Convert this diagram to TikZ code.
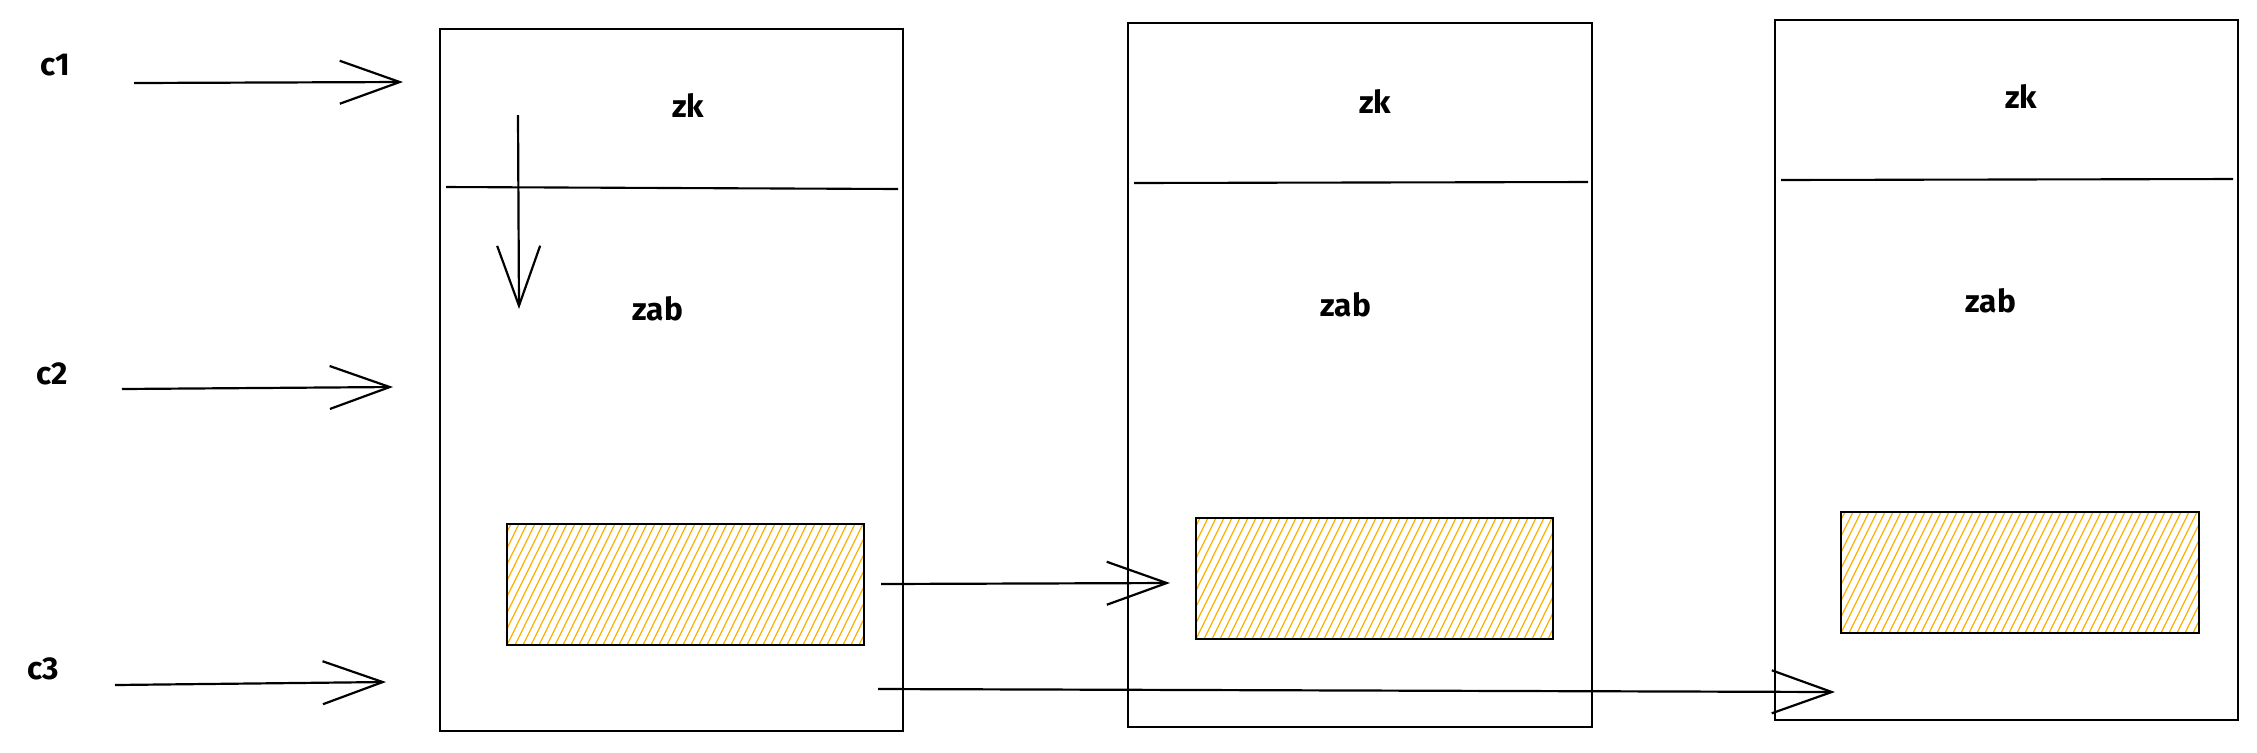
\documentclass[tikz,border=0pt]{standalone}
\usepackage{fontspec}
\setmainfont{Fira Sans}
\usetikzlibrary{arrows.meta}
\definecolor{hatchc}{HTML}{FAB005}
\tikzset{
  box/.style={draw, line width=0.9pt, inner sep=0pt, fill=none},
  divider/.style={line width=1.2pt},
  arr/.style={line width=1.25pt, -{Straight Barb[length=1.2cm,width=0.86cm,line width=1.25pt]}},
  hatchbox/.style={draw, line width=1.5pt, inner sep=0pt},
  hatch/.style={draw=hatchc, line width=0.7pt},
  lbl/.style={font=\fontsize{18}{20}\selectfont\bfseries, inner sep=0pt}
}
\newcommand\myhatch[4]{%
  \begin{scope}
    \clip (#1,#2) rectangle (#3,#4);
    \foreach \k in {-80,-72,...,370} \draw[hatch] (#1+\k,#4) -- ++(60,-121);
  \end{scope}}
\begin{document}
\begin{tikzpicture}[x=0.02cm,y=-0.02cm]
\useasboundingbox (0,0) rectangle (2257,752);
% hatch fills
\myhatch{507}{524}{864}{645}
\myhatch{1196}{518}{1553}{639}
\myhatch{1841}{512}{2199}{633}
% big boxes
\node[box, minimum width=9.26cm, minimum height=14.04cm] (b1) at (671.5,380) {};
\node[box, minimum width=9.28cm, minimum height=14.08cm] (b2) at (1360,375) {};
\node[box, minimum width=9.26cm, minimum height=14.00cm] (b3) at (2006.5,370) {};
% dividers
\draw[divider] (446,187) -- (898,189);
\draw[divider] (1134,183) -- (1588,182);
\draw[divider] (1781,180) -- (2233,179);
% hatched rects
\node[hatchbox, minimum width=7.14cm, minimum height=2.42cm] (r1) at (685.5,584.5) {};
\node[hatchbox, minimum width=7.14cm, minimum height=2.42cm] (r2) at (1374.5,578.5) {};
\node[hatchbox, minimum width=7.16cm, minimum height=2.42cm] (r3) at (2020,572.5) {};
% labels
\node[lbl] (zk1) at (688,105) {zk};
\node[lbl] (zab1) at (658,309) {zab};
\node[lbl] (zk2) at (1375,101) {zk};
\node[lbl] (zab2) at (1346,305) {zab};
\node[lbl] (zk3) at (2021,96) {zk};
\node[lbl] (zab3) at (1991,301) {zab};
\node[lbl] (c1) at (55,65) {c1};
\node[lbl] (c2) at (52,374) {c2};
\node[lbl] (c3) at (43,669) {c3};
% arrow ends
\coordinate (c1s) at (134,83);
\coordinate (c1e) at (403,82);
\coordinate (c2s) at (122,389);
\coordinate (c2e) at (393,387);
\coordinate (c3s) at (115,685);
\coordinate (c3e) at (386,682);
\coordinate (ds) at (518,115);
\coordinate (de) at (519,309);
\coordinate (ms) at (881,584);
\coordinate (me) at (1170,583);
\coordinate (ls) at (878,689);
\coordinate (le) at (1835,692);
\draw[arr] (c1s) -- (c1e);
\draw[arr] (c2s) -- (c2e);
\draw[arr] (c3s) -- (c3e);
\draw[arr] (ds) -- (de);
\draw[arr] (ms) -- (me);
\draw[arr] (ls) -- (le);
\end{tikzpicture}
\end{document}
